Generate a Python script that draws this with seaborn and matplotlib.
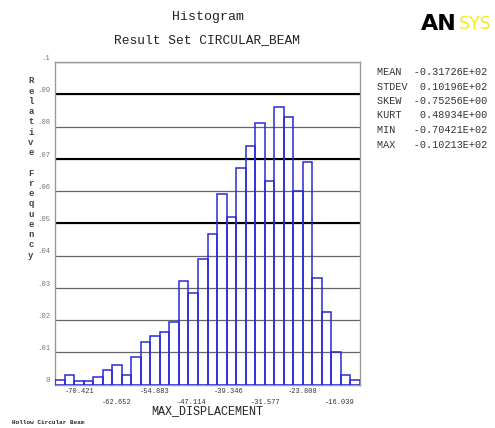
import numpy as np
import pandas as pd
import seaborn as sns
import matplotlib.pyplot as plt

# relative frequency per bin (32 bins)
freq = [0.0014, 0.003, 0.001, 0.001, 0.0024, 0.0045, 0.006, 0.003,
        0.0084, 0.0133, 0.015, 0.0163, 0.0195, 0.032, 0.0285, 0.039,
        0.0466, 0.059, 0.052, 0.067, 0.074, 0.081, 0.063, 0.086,
        0.083, 0.060, 0.069, 0.033, 0.0225, 0.010, 0.003, 0.0014]
x_lo, x_hi = -75.65, -11.85
tick_vals = [-70.421, -62.652, -54.883, -47.114, -39.346, -31.577, -23.808, -16.039]
tick_text = ["-70.421", "-62.652", "-54.883", "-47.114", "-39.346", "-31.577", "-23.808", "-16.039"]
stat_names = ["MEAN", "STDEV", "SKEW", "KURT", "MIN", "MAX"]
stat_vals = ["-0.31726E+02", " 0.10196E+02", "-0.75256E+00", " 0.48934E+00", "-0.70421E+02", "-0.10213E+02"]

sns.set_style("white")
plt.rcParams['font.family'] = ['Liberation Mono', 'DejaVu Sans Mono']

W, H = 495, 428
fx = lambda p: p / W
fy = lambda p: 1 - p / H

fig = plt.figure(figsize=(W / 100, H / 100), dpi=100)
ax = fig.add_axes([fx(55), fy(384.5), 305 / W, (384.5 - 62) / H])

edges = np.linspace(x_lo, x_hi, len(freq) + 1)
df = pd.DataFrame({"disp": (edges[:-1] + edges[1:]) / 2, "rel": freq})
sns.histplot(data=df, x="disp", weights="rel", bins=edges.tolist(), fill=False, color="#2a2ad8",
             linewidth=1.1, ax=ax, zorder=3)

ax.set_xlim(x_lo, x_hi)
ax.set_ylim(0, 0.1)
ax.set_xlabel("")
ax.set_ylabel("")

# y axis
yt = np.round(np.arange(0, 0.101, 0.01), 2)
ax.set_yticks(yt)
ax.set_yticklabels(["0"] + ["." + f"{v:.2f}"[2:] for v in yt[1:-1]] + [".1"],
                   fontsize=5.2, color="#777777")
for lab in ax.get_yticklabels():
    lab.set_va("bottom")
ax.tick_params(axis="y", direction="inout", length=5, width=0.8, color="#333333", pad=1)
ax.grid(axis="y", color="#666666", linewidth=0.9, zorder=1)
for v in [0.05, 0.07, 0.09]:
    ax.axhline(v, color="black", linewidth=1.5, zorder=2)

# x axis
ax.set_xticks(edges, minor=True)
ax.set_xticks(tick_vals)
ax.set_xticklabels(tick_text, fontsize=5, color="#333333")
ax.tick_params(axis="x", which="major", length=0)
ax.tick_params(axis="x", which="minor", length=2, width=1, color="#000080", direction="out")
for i, t in enumerate(ax.xaxis.get_major_ticks()):
    t.set_pad(2.5 if i % 2 == 0 else 10.5)

for s in ax.spines.values():
    s.set_color("#999999")
    s.set_linewidth(1)

# titles and labels
fig.text(fx(208), fy(17), "Histogram", fontsize=9.5, ha="center", va="center", color="#222222")
fig.text(fx(207), fy(40), "Result Set CIRCULAR_BEAM", fontsize=9.3, ha="center", va="center", color="#222222")
fig.text(fx(207), fy(411), "MAX_DISPLACEMENT", fontsize=8.5, ha="center", va="center", color="#222222")
fig.text(fx(12), fy(422), "Hollow Circular Beam", fontsize=4.3, weight="bold", ha="left", va="center", color="#222222")

ylab = "\n".join(list("Relative")) + "\n\n" + "\n".join(list("Frequency"))
fig.text(fx(31), fy(168), ylab, fontsize=6.5, ha="center", va="center", color="#444444",
         linespacing=1.18, weight="bold")

for i, (n, v) in enumerate(zip(stat_names, stat_vals)):
    fig.text(fx(377), fy(72 + i * 14.5), f"{n:<6}{v}", fontsize=7.3, ha="left", va="center", color="#333333")

fig.text(fx(421), fy(24), "AN", fontsize=16, weight="heavy", family="DejaVu Sans",
         ha="left", va="center", color="black")
fig.text(fx(459), fy(24), "SYS", fontsize=12.5, family="DejaVu Sans",
         ha="left", va="center", color="#f2ec20")

fig.savefig("out.png", dpi=100)
